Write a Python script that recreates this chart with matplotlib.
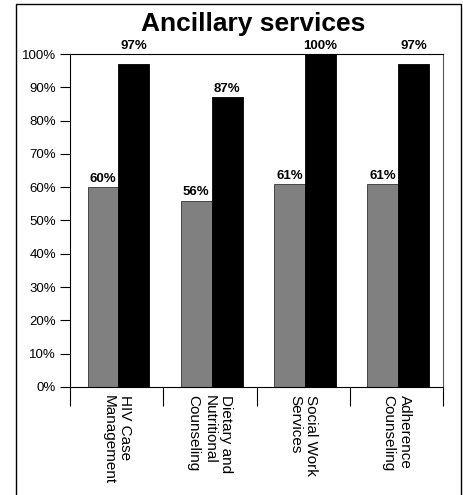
import numpy as np
import matplotlib
matplotlib.use('Agg')
import matplotlib.pyplot as plt
from matplotlib.patches import Rectangle

plt.rcParams['font.family'] = ['Liberation Sans', 'DejaVu Sans']

services = ['HIV Case\nManagement', 'Dietary and\nNutritional\nCounseling',
            'Social Work\nServices', 'Adherence\nCounseling']
pct_grey = [60, 56, 61, 61]
pct_black = [97, 87, 100, 97]
yticks = list(range(0, 101, 10))

fig = plt.figure(figsize=(4.63, 4.95), dpi=100)
ax = fig.add_axes([0.1512, 0.2182, 0.8056, 0.6727])

# outer frame around the whole chart
fig.patches.append(Rectangle((16 / 463, -0.01), 445 / 463, 1.01 - 4 / 495,
                             transform=fig.transFigure, fill=False,
                             edgecolor='black', lw=1.0))

x = np.arange(len(services))
w = 0.33
shift = 0.02
b1 = ax.bar(x - w / 2 + shift, pct_grey, w, color='#808080',
            edgecolor='#333333', lw=0.6)
b2 = ax.bar(x + w / 2 + shift, pct_black, w, color='black',
            edgecolor='black', lw=0.6)

for bars, vals in ((b1, pct_grey), (b2, pct_black)):
    for b, v in zip(bars, vals):
        # labels near the top are lifted above the frame
        ytxt = max(v, 100) if v >= 95 else v
        ax.annotate(f'{v}%', (b.get_x() + b.get_width() / 2, ytxt),
                    xytext=(0, 1.5), textcoords='offset points',
                    ha='center', va='bottom', fontsize=9.5, fontweight='bold',
                    annotation_clip=False)

ax.set_xlim(-0.5, len(services) - 0.5)
ax.set_ylim(0, 100)
ax.set_yticks(yticks)
ax.set_yticklabels([f'{t}%' for t in yticks], fontsize=9.5)
ax.tick_params(axis='y', length=7, width=0.8, pad=3)

# category separators below the axis
ax.set_xticks(x)
ax.set_xticklabels(services, rotation=270, ha='center', va='top',
                   multialignment='left', fontsize=11)
ax.tick_params(axis='x', which='major', length=0, pad=6)
ax.set_xticks(np.arange(-0.5, len(services)), minor=True)
ax.tick_params(axis='x', which='minor', length=14, width=0.8)

for s in ('left', 'bottom', 'top'):
    ax.spines[s].set_linewidth(0.8)
    ax.spines[s].set_color('black')
ax.spines['right'].set_color('#555555')
ax.spines['right'].set_linewidth(0.8)

fig.text(0.5475, 1 - 31 / 495, 'Ancillary services', ha='center',
         va='baseline', fontsize=19, fontweight='bold')

fig.savefig('out.png', dpi=100)
